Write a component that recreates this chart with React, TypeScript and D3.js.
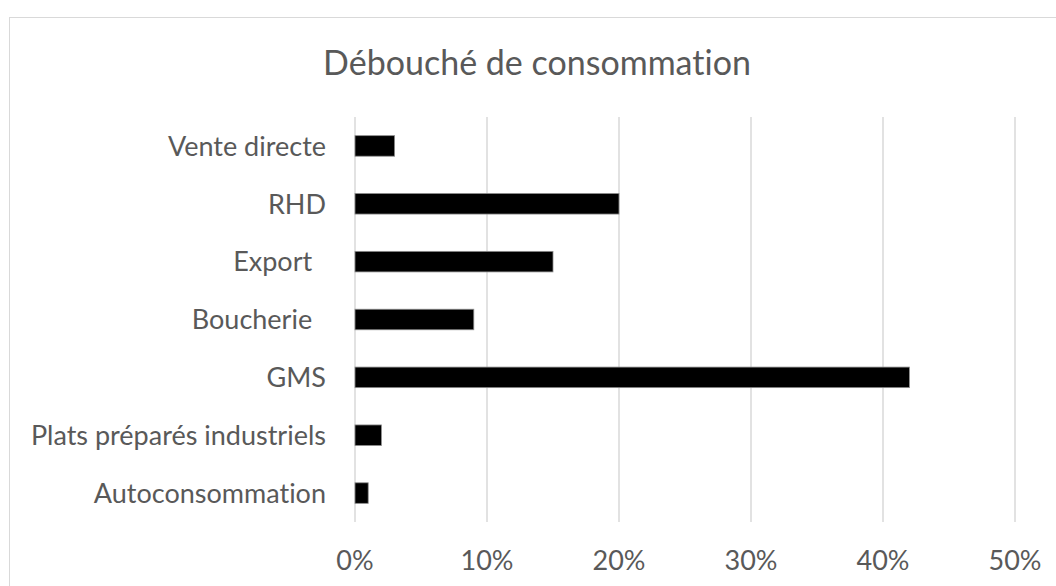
import React from "react";
import * as d3 from "d3";

// categories top to bottom, values in %
const categories = [
  "Vente directe",
  "RHD",
  "Export  ",
  "Boucherie  ",
  "GMS",
  "Plats préparés industriels",
  "Autoconsommation",
];
const values = [3, 20, 15, 9, 42, 2, 1];
const ticks = [0, 10, 20, 30, 40, 50];
const title = "Débouché de consommation";

const W = 1056;
const H = 586;
const FONT = "Lato, 'Open Sans', sans-serif";
const GREY = "#595959";
const GRID = "#d9d9d9";

export default function App() {
  const x = d3.scaleLinear().domain([0, 50]).range([355, 1015]);
  const y = d3
    .scaleBand<string>()
    .domain(categories)
    .range([117, 522])
    .paddingInner(0.645)
    .paddingOuter(0.3225);

  const textStyle: React.CSSProperties = { whiteSpace: "pre", fontVariantLigatures: "none" };

  return (
    <div style={{ position: "absolute", left: 0, top: 0 }}>
      <svg width={W} height={H} style={{ display: "block", background: "#fff" }}>
        {/* chart frame */}
        <rect x={9.5} y={17.5} width={W + 20} height={H + 20} fill="#fff" stroke={GRID} strokeWidth={1} />

        <text
          x={537}
          y={75}
          textAnchor="middle"
          fontFamily={FONT}
          fontSize={34}
          fill={GREY}
          style={textStyle}
        >
          {title}
        </text>

        {/* gridlines */}
        {ticks.map((t) => (
          <line
            key={t}
            x1={x(t)}
            x2={x(t)}
            y1={117}
            y2={522}
            stroke={GRID}
            strokeWidth={1.5}
          />
        ))}

        {/* tick labels */}
        {ticks.map((t) => (
          <text
            key={"l" + t}
            x={x(t)}
            y={570}
            textAnchor="middle"
            fontFamily={FONT}
            fontSize={27}
            fill={GREY}
          >
            {t + "%"}
          </text>
        ))}

        {/* bars */}
        {categories.map((c, i) => (
          <rect
            key={c}
            x={x(0)}
            y={y(c)}
            width={x(values[i]) - x(0)}
            height={y.bandwidth()}
            fill="#000"
            stroke="#8c8c8c"
            strokeWidth={0.8}
          />
        ))}

        {/* category labels */}
        {categories.map((c) => (
          <text
            key={"c" + c}
            x={326}
            y={(y(c) ?? 0) + y.bandwidth() / 2}
            dy="0.36em"
            textAnchor="end"
            fontFamily={FONT}
            fontSize={27}
            fill={GREY}
            style={textStyle}
          >
            {c}
          </text>
        ))}
      </svg>
    </div>
  );
}
